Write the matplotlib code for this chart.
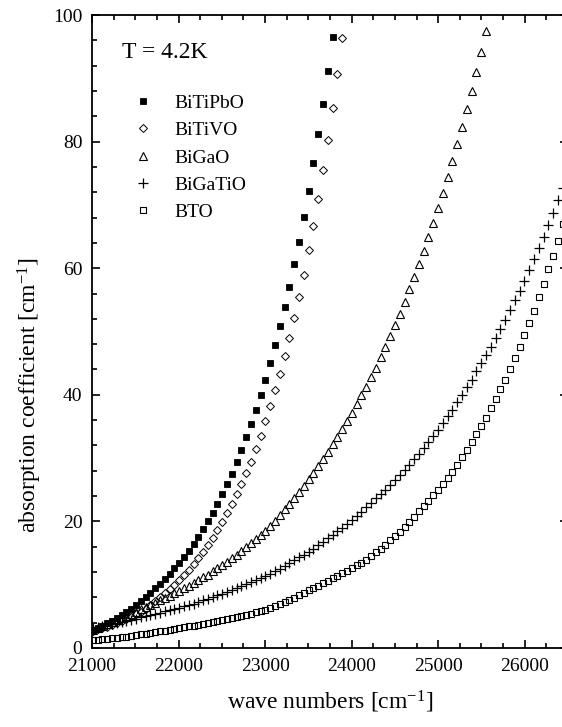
import matplotlib
matplotlib.use('Agg')
import matplotlib.pyplot as plt
from matplotlib.ticker import MultipleLocator

plt.rcParams['font.family'] = ['Liberation Serif', 'DejaVu Serif']
plt.rcParams['mathtext.fontset'] = 'custom'
plt.rcParams['mathtext.rm'] = 'Liberation Serif'
plt.rcParams['mathtext.it'] = 'Liberation Serif:italic'

# measurement grid (cm^-1), shared by all samples
wavenumbers = [
    21010, 21065, 21121, 21176, 21232, 21287, 21342, 21398, 21453, 21509,
    21564, 21619, 21675, 21730, 21786, 21841, 21896, 21952, 22007, 22063,
    22118, 22173, 22229, 22284, 22340, 22395, 22450, 22506, 22561, 22617,
    22672, 22727, 22783, 22838, 22894, 22949, 23004, 23060, 23115, 23171,
    23226, 23281, 23337, 23392, 23448, 23503, 23558, 23614, 23669, 23725,
    23780, 23835, 23891, 23946, 24002, 24057, 24112, 24168, 24223, 24279,
    24334, 24389, 24445, 24500, 24556, 24611, 24666, 24722, 24777, 24833,
    24888, 24943, 24999, 25054, 25110, 25165, 25220, 25276, 25331, 25387,
    25442, 25497, 25553, 25608, 25664, 25719, 25774, 25830, 25885, 25941,
    25996, 26051, 26107, 26162, 26218, 26273, 26328, 26384, 26439,
]

bitipbo = [
    2.84, 3.2, 3.55, 3.9, 4.27, 4.7, 5.18, 5.7, 6.24, 6.8,
    7.4, 8.05, 8.72, 9.4, 10.12, 10.88, 11.7, 12.57, 13.46, 14.4,
    15.4, 16.45, 17.55, 18.75, 20.05, 21.4, 22.8, 24.3, 25.9, 27.55,
    29.35, 31.25, 33.3, 35.4, 37.6, 39.9, 42.4, 45.0, 47.8, 50.8,
    53.9, 57.1, 60.6, 64.2, 68.1, 72.2, 76.6, 81.2, 86.0, 91.1,
    96.5,
]

bitivo = [
    2.75, 2.93, 3.13, 3.35, 3.6, 3.88, 4.19, 4.53, 4.9, 5.3,
    5.74, 6.22, 6.8, 7.4, 8.0, 8.62, 9.28, 9.97, 10.7, 11.55,
    12.4, 13.3, 14.25, 15.2, 16.2, 17.35, 18.6, 19.95, 21.3, 22.75,
    24.3, 25.95, 27.65, 29.45, 31.4, 33.55, 35.85, 38.25, 40.8, 43.35,
    46.1, 49.0, 52.2, 55.5, 59.0, 62.8, 66.7, 70.9, 75.5, 80.3,
    85.3, 90.7, 96.4,
]

bigao = [
    2.8, 3.12, 3.44, 3.76, 4.08, 4.41, 4.74, 5.07, 5.41, 5.75,
    6.09, 6.44, 6.79, 7.15, 7.51, 7.88, 8.25, 8.63, 9.02, 9.42,
    9.83, 10.25, 10.69, 11.14, 11.61, 12.09, 12.59, 13.1, 13.63, 14.17,
    14.73, 15.31, 15.91, 16.53, 17.17, 17.83, 18.52, 19.24, 20.1, 21.0,
    21.9, 22.8, 23.7, 24.65, 25.6, 26.65, 27.7, 28.8, 29.9, 31.0,
    32.2, 33.4, 34.6, 35.9, 37.2, 38.5, 39.9, 41.3, 42.8, 44.3,
    45.9, 47.6, 49.3, 51.0, 52.8, 54.7, 56.7, 58.6, 60.6, 62.7,
    64.9, 67.2, 69.5, 71.9, 74.4, 76.9, 79.6, 82.3, 85.1, 88.0,
    91.0, 94.1, 97.4,
]

bigatio = [
    3.1, 3.27, 3.44, 3.61, 3.78, 3.95, 4.12, 4.3, 4.48, 4.66,
    4.85, 5.03, 5.21, 5.4, 5.59, 5.79, 5.98, 6.18, 6.38, 6.59,
    6.8, 7.03, 7.27, 7.52, 7.78, 8.04, 8.31, 8.6, 8.88, 9.17,
    9.46, 9.76, 10.07, 10.38, 10.7, 11.03, 11.36, 11.7, 12.1, 12.52,
    12.95, 13.4, 13.85, 14.3, 14.75, 15.2, 15.7, 16.22, 16.75, 17.3,
    17.87, 18.44, 19.0, 19.56, 20.2, 20.85, 21.53, 22.22, 22.93, 23.62,
    24.3, 25.0, 25.7, 26.47, 27.27, 28.1, 28.95, 29.8, 30.7, 31.6,
    32.55, 33.5, 34.5, 35.55, 36.6, 37.65, 38.8, 40.0, 41.2, 42.4,
    43.7, 45.0, 46.3, 47.6, 49.0, 50.4, 51.85, 53.35, 54.9, 56.45,
    58.05, 59.7, 61.45, 63.2, 64.95, 66.8, 68.75, 70.7, 72.6,
]

bto = [
    1.25, 1.32, 1.39, 1.47, 1.54, 1.62, 1.7, 1.81, 1.93, 2.04,
    2.16, 2.27, 2.39, 2.5, 2.63, 2.76, 2.89, 3.01, 3.14, 3.27,
    3.4, 3.54, 3.69, 3.83, 3.97, 4.11, 4.26, 4.4, 4.57, 4.74,
    4.91, 5.08, 5.25, 5.45, 5.65, 5.86, 6.08, 6.3, 6.6, 6.92,
    7.25, 7.6, 7.96, 8.33, 8.71, 9.1, 9.48, 9.86, 10.25, 10.65,
    11.06, 11.45, 11.82, 12.2, 12.6, 13.05, 13.5, 13.98, 14.5, 15.1,
    15.7, 16.33, 17.0, 17.67, 18.36, 19.07, 19.88, 20.72, 21.57, 22.42,
    23.28, 24.15, 25.02, 25.9, 26.85, 27.85, 28.95, 30.1, 31.3, 32.5,
    33.8, 35.1, 36.4, 37.9, 39.3, 40.9, 42.4, 44.1, 45.8, 47.6,
    49.4, 51.3, 53.3, 55.4, 57.5, 59.8, 61.9, 64.3, 67.0,
]

series = [
    ('BiTiPbO', bitipbo, dict(marker='s', ms=4.2, mfc='black', mec='black', mew=0.6)),
    ('BiTiVO', bitivo, dict(marker='D', ms=3.7, mfc='none', mec='black', mew=0.7)),
    ('BiGaO', bigao, dict(marker='^', ms=5.2, mfc='none', mec='black', mew=0.8)),
    ('BiGaTiO', bigatio, dict(marker='+', ms=7.5, mec='black', mew=0.9)),
    ('BTO', bto, dict(marker='s', ms=4.0, mfc='none', mec='black', mew=0.8)),
]

fig = plt.figure(figsize=(5.62, 7.27), dpi=100)
ax = fig.add_axes([92 / 562, 79 / 727, 476 / 562, 633 / 727])

for name, vals, style in series:
    ax.plot(wavenumbers[:len(vals)], vals, linestyle='none', label=name, **style)

ax.set_xlim(21000, 26500)
ax.set_ylim(0, 100)
ax.xaxis.set_major_locator(MultipleLocator(1000))
ax.xaxis.set_minor_locator(MultipleLocator(250))
ax.yaxis.set_major_locator(MultipleLocator(20))
ax.yaxis.set_minor_locator(MultipleLocator(4))
ax.tick_params(which='both', direction='in', top=True, right=True,
               labelsize=14, width=1.2)
ax.tick_params(which='major', length=6, pad=7)
ax.tick_params(which='minor', length=3.5)
for spine in ax.spines.values():
    spine.set_linewidth(1.3)

ax.set_xlabel(r'wave numbers [cm$^{\mathdefault{-1}}$]', fontsize=17, labelpad=10)
ax.set_ylabel(r'absorption coefficient [cm$^{\mathdefault{-1}}$]', fontsize=17)
ax.yaxis.set_label_coords(-0.10, 0.40)

ax.text(0.063, 0.94, 'T = 4.2K', transform=ax.transAxes, fontsize=17,
        ha='left', va='center')

ax.legend(loc='upper left', bbox_to_anchor=(0.07, 0.887), frameon=False,
          numpoints=1, handlelength=1.0, handletextpad=1.1,
          labelspacing=0.5, fontsize=14, borderaxespad=0)

fig.savefig('out.png', dpi=100)
